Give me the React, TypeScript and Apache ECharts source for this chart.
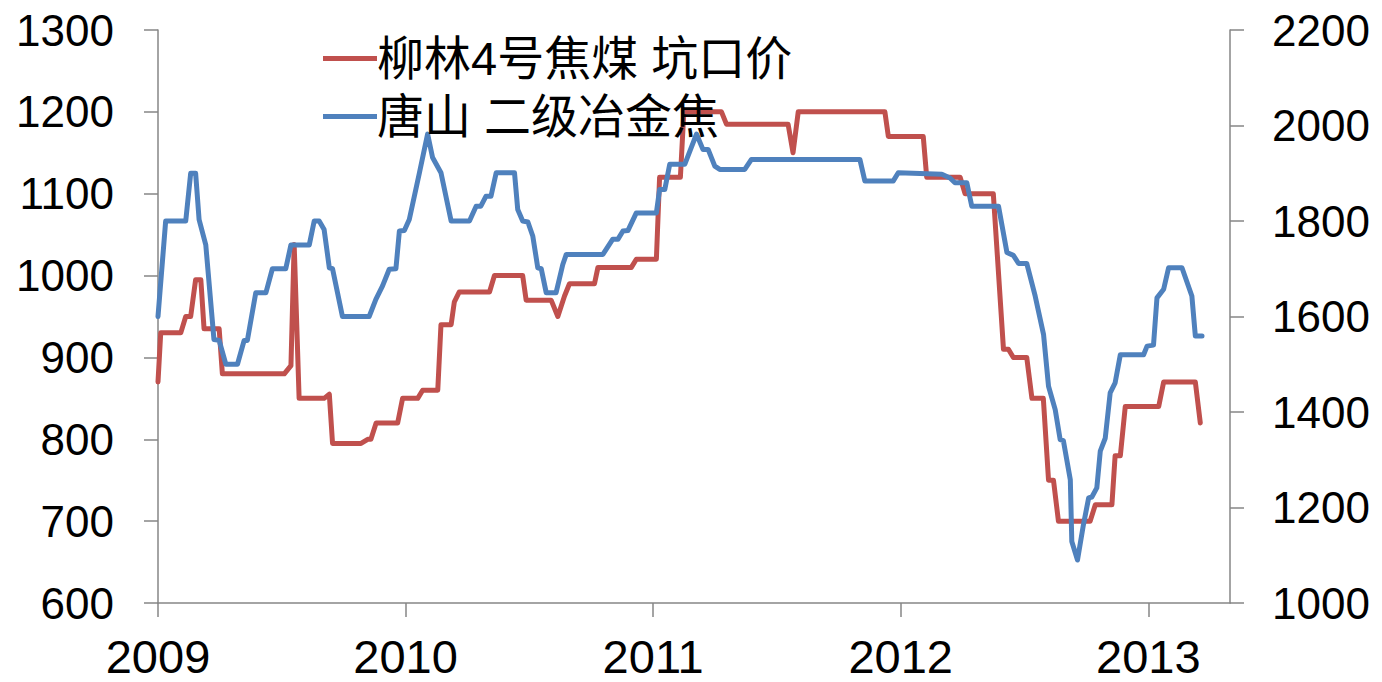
import React, { useEffect, useRef } from "react";
import * as echarts from "echarts";

const xTickYears = [2009, 2010, 2011, 2012, 2013];
const legendNames = ["柳林4号焦煤 坑口价", "唐山 二级冶金焦"];

// 柳林4号焦煤 坑口价 (left axis) : [decimal year, price]
const liulinCoal: [number, number][] = [
  [2009.0, 870], [2009.011, 930], [2009.092, 930], [2009.112, 950], [2009.132, 950],
  [2009.152, 995], [2009.173, 995], [2009.186, 935], [2009.247, 935], [2009.26, 880],
  [2009.51, 880], [2009.537, 890], [2009.55, 1038], [2009.57, 850], [2009.671, 850],
  [2009.692, 855], [2009.705, 795], [2009.82, 795], [2009.847, 800], [2009.86, 800],
  [2009.881, 820], [2009.968, 820], [2009.988, 850], [2010.049, 850], [2010.069, 860],
  [2010.13, 860], [2010.143, 940], [2010.184, 940], [2010.197, 968], [2010.217, 980],
  [2010.339, 980], [2010.359, 1000], [2010.473, 1000], [2010.487, 970], [2010.588, 970],
  [2010.615, 950], [2010.642, 975], [2010.662, 990], [2010.763, 990], [2010.777, 1010],
  [2010.912, 1010], [2010.932, 1020], [2011.013, 1020], [2011.026, 1120], [2011.11, 1120],
  [2011.124, 1200], [2011.276, 1200], [2011.296, 1185], [2011.545, 1185], [2011.565, 1150],
  [2011.586, 1200], [2011.936, 1200], [2011.95, 1170], [2012.091, 1170], [2012.105, 1120],
  [2012.24, 1120], [2012.26, 1100], [2012.374, 1100], [2012.415, 910], [2012.435, 910],
  [2012.455, 900], [2012.509, 900], [2012.53, 850], [2012.576, 850], [2012.597, 750],
  [2012.617, 750], [2012.637, 700], [2012.765, 700], [2012.786, 720], [2012.853, 720],
  [2012.866, 780], [2012.887, 780], [2012.907, 840], [2013.042, 840], [2013.062, 870],
  [2013.19, 870], [2013.21, 820],
];

// 唐山 二级冶金焦 (right axis) : [decimal year, price]
const tangshanCoke: [number, number][] = [
  [2009.0, 1600], [2009.031, 1800], [2009.112, 1800], [2009.132, 1900], [2009.152, 1900],
  [2009.166, 1803], [2009.193, 1750], [2009.226, 1552], [2009.247, 1550], [2009.274, 1500],
  [2009.321, 1500], [2009.348, 1550], [2009.361, 1550], [2009.395, 1650], [2009.436, 1650],
  [2009.462, 1700], [2009.516, 1700], [2009.537, 1750], [2009.611, 1750], [2009.631, 1800],
  [2009.651, 1800], [2009.671, 1782], [2009.692, 1702], [2009.705, 1700], [2009.745, 1600],
  [2009.853, 1600], [2009.88, 1636], [2009.907, 1664], [2009.934, 1699], [2009.961, 1700],
  [2009.975, 1779], [2009.995, 1780], [2010.015, 1803], [2010.056, 1901], [2010.089, 1982],
  [2010.109, 1933], [2010.143, 1901], [2010.184, 1800], [2010.258, 1800], [2010.285, 1831],
  [2010.304, 1831], [2010.325, 1852], [2010.345, 1852], [2010.366, 1901], [2010.44, 1901],
  [2010.453, 1824], [2010.473, 1800], [2010.494, 1798], [2010.514, 1768], [2010.534, 1702],
  [2010.548, 1700], [2010.568, 1650], [2010.608, 1650], [2010.635, 1709], [2010.649, 1730],
  [2010.797, 1730], [2010.837, 1762], [2010.858, 1762], [2010.878, 1779], [2010.898, 1780],
  [2010.932, 1817], [2011.013, 1817], [2011.026, 1866], [2011.047, 1866], [2011.067, 1919],
  [2011.128, 1919], [2011.175, 1982], [2011.201, 1950], [2011.222, 1950], [2011.249, 1915],
  [2011.269, 1908], [2011.37, 1908], [2011.397, 1929], [2011.835, 1929], [2011.855, 1884],
  [2011.97, 1884], [2011.99, 1901], [2012.166, 1898], [2012.199, 1890], [2012.219, 1880],
  [2012.267, 1880], [2012.287, 1831], [2012.395, 1831], [2012.429, 1734], [2012.455, 1728],
  [2012.476, 1711], [2012.509, 1711], [2012.543, 1643], [2012.577, 1562], [2012.597, 1454],
  [2012.624, 1405], [2012.644, 1342], [2012.657, 1340], [2012.685, 1258], [2012.691, 1129],
  [2012.714, 1090], [2012.738, 1164], [2012.759, 1220], [2012.772, 1222], [2012.792, 1241],
  [2012.806, 1318], [2012.826, 1345], [2012.846, 1440], [2012.866, 1461], [2012.887, 1520],
  [2012.981, 1520], [2012.995, 1538], [2013.021, 1540], [2013.035, 1639], [2013.062, 1657],
  [2013.082, 1702], [2013.136, 1702], [2013.176, 1643], [2013.19, 1559], [2013.217, 1559],
];

const RED = "#C0504D";
const BLUE = "#4F81BD";
const AXIS = "#868686";
const NUM_FONT = "'Liberation Sans', Arial, sans-serif";
const CJK_FONT = "'Liberation Sans', 'Noto Sans CJK SC', sans-serif";

export default function App() {
  const ref = useRef<HTMLDivElement>(null);
  useEffect(() => {
    if (!ref.current) return;
    const chart = echarts.init(ref.current, undefined, { renderer: "svg" });
    const axisLine = { show: true, lineStyle: { color: AXIS, width: 1.5 } };
    const axisTick = { show: true, inside: false, length: 14, lineStyle: { color: AXIS, width: 1.5 } };
    const plain = (v: number) => String(Math.round(v));
    chart.setOption({
      animation: false,
      backgroundColor: "#ffffff",
      grid: { left: 158, right: 152, top: 30, bottom: 79, containLabel: false },
      legend: {
        show: true,
        orient: "vertical",
        left: 318,
        top: 30,
        itemWidth: 54,
        itemHeight: 5,
        itemGap: 11,
        icon: "rect",
        data: legendNames,
        textStyle: {
          fontSize: 47,
          fontFamily: CJK_FONT,
          color: "#000",
          lineHeight: 46,
          padding: [0, 0, 0, -5],
        },
      },
      xAxis: {
        type: "value",
        min: 2009,
        max: 2013.33,
        interval: 1,
        splitLine: { show: false },
        axisLine: { ...axisLine, onZero: false },
        axisTick: { ...axisTick, customValues: xTickYears },
        axisLabel: {
          customValues: xTickYears,
          formatter: plain,
          fontSize: 47,
          fontFamily: NUM_FONT,
          color: "#000",
          margin: 30,
        },
      },
      yAxis: [
        {
          type: "value",
          min: 600,
          max: 1300,
          interval: 100,
          position: "left",
          splitLine: { show: false },
          axisLine,
          axisTick,
          axisLabel: { formatter: plain, fontSize: 44, fontFamily: NUM_FONT, color: "#000", margin: 44 },
        },
        {
          type: "value",
          min: 1000,
          max: 2200,
          interval: 200,
          position: "right",
          splitLine: { show: false },
          axisLine,
          axisTick,
          axisLabel: { formatter: plain, fontSize: 44, fontFamily: NUM_FONT, color: "#000", margin: 42 },
        },
      ],
      series: [
        {
          name: legendNames[0],
          type: "line",
          yAxisIndex: 0,
          data: liulinCoal,
          showSymbol: false,
          symbol: "none",
          color: RED,
          lineStyle: { color: RED, width: 5, join: "round", cap: "round" },
        },
        {
          name: legendNames[1],
          type: "line",
          yAxisIndex: 1,
          data: tangshanCoke,
          showSymbol: false,
          symbol: "none",
          color: BLUE,
          lineStyle: { color: BLUE, width: 5, join: "round", cap: "round" },
        },
      ],
    });
    return () => chart.dispose();
  }, []);
  return (
    <div
      ref={ref}
      style={{ position: "fixed", left: 0, top: 0, width: 1382, height: 682, background: "#fff" }}
    />
  );
}
